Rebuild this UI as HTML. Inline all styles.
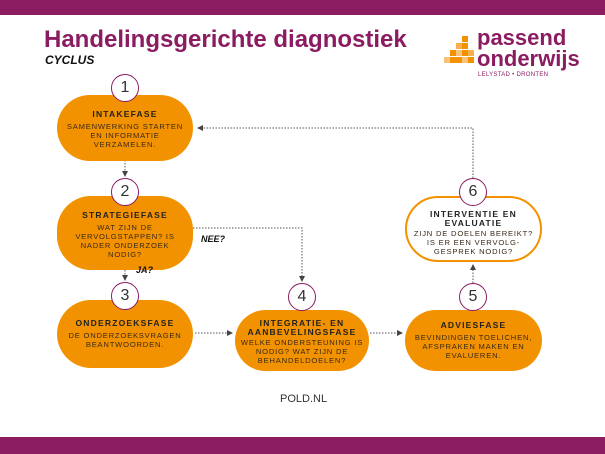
<!DOCTYPE html>
<html><head><meta charset="utf-8"><style>
*{margin:0;padding:0;box-sizing:border-box}
body{width:605px;height:454px;position:relative;background:#fff;font-family:"Liberation Sans",sans-serif;overflow:hidden}
.bar{position:absolute;left:0;width:605px;background:#8b1c62}
.t{position:absolute;white-space:nowrap}
.pill{position:absolute;background:#f39200;border-radius:34px;text-align:center;color:#3a2a1a;letter-spacing:0.8px}
.pill b{display:block;font-size:8.5px;letter-spacing:1.2px;color:#222;margin-bottom:3px}
.pill span{display:block;font-size:7.6px;line-height:9px}
.c{position:absolute;width:28px;height:28px;border-radius:50%;background:#fff;border:1.5px solid #8b1c62;text-align:center;line-height:25px;font-size:16px;color:#333}
.sq{position:absolute;width:6px;height:6px}
</style></head><body>
<div class="bar" style="top:0;height:15px"></div>
<div class="bar" style="top:437px;height:17px"></div>
<div class="t" style="left:44px;top:26px;font-size:24px;font-weight:bold;color:#8b1c62">Handelingsgerichte diagnostiek</div>
<div class="t" style="left:45px;top:53px;font-size:12px;font-weight:bold;font-style:italic;color:#111">CYCLUS</div>
<!-- logo -->
<div class="sq" style="left:462px;top:36px;background:#f39200"></div>
<div class="sq" style="left:456px;top:43px;background:#f7b04d"></div><div class="sq" style="left:462px;top:43px;background:#f39200"></div>
<div class="sq" style="left:450px;top:50px;background:#f39200"></div><div class="sq" style="left:456px;top:50px;background:#f9c27a"></div><div class="sq" style="left:462px;top:50px;background:#f39200"></div><div class="sq" style="left:468px;top:50px;background:#f7b04d"></div>
<div class="sq" style="left:444px;top:57px;background:#f9c27a"></div><div class="sq" style="left:450px;top:57px;background:#f39200"></div><div class="sq" style="left:456px;top:57px;background:#f39200"></div><div class="sq" style="left:462px;top:57px;background:#f9c27a"></div><div class="sq" style="left:468px;top:57px;background:#f39200"></div>
<div class="t" style="left:477px;top:27px;font-size:22px;font-weight:bold;color:#8b1c62;line-height:21px">passend<br>onderwijs</div>
<div class="t" style="left:478px;top:72px;font-size:6px;color:#8b1c62;letter-spacing:0.3px">LELYSTAD • DRONTEN</div>

<svg style="position:absolute;left:0;top:0" width="605" height="454">
<defs><marker id="a" markerWidth="6" markerHeight="6" refX="5" refY="3" orient="auto"><path d="M0,0L6,3L0,6z" fill="#444"/></marker></defs>
<g stroke="#555" stroke-width="1" stroke-dasharray="1.5,1.5" fill="none">
<path d="M473 178V128H198" marker-end="url(#a)"/>
<path d="M125 160V176" marker-end="url(#a)"/>
<path d="M193 228H302V281" marker-end="url(#a)"/>
<path d="M125 270V280" marker-end="url(#a)"/>
<path d="M195 333H232" marker-end="url(#a)"/>
<path d="M370 333H402" marker-end="url(#a)"/>
<path d="M473 283V265" marker-end="url(#a)"/>
</g></svg>

<div class="pill" style="left:57px;top:95px;width:136px;height:66px;padding-top:14px"><b>INTAKEFASE</b><span>SAMENWERKING STARTEN<br>EN INFORMATIE<br>VERZAMELEN.</span></div>
<div class="pill" style="left:57px;top:196px;width:136px;height:74px;padding-top:14px"><b>STRATEGIEFASE</b><span>WAT ZIJN DE<br>VERVOLGSTAPPEN? IS<br>NADER ONDERZOEK<br>NODIG?</span></div>
<div class="pill" style="left:57px;top:300px;width:136px;height:68px;padding-top:18px"><b>ONDERZOEKSFASE</b><span>DE ONDERZOEKSVRAGEN<br>BEANTWOORDEN.</span></div>
<div class="pill" style="left:235px;top:310px;width:134px;height:61px;padding-top:9px"><b style="margin-bottom:1px;line-height:9px">INTEGRATIE- EN<br>AANBEVELINGSFASE</b><span>WELKE ONDERSTEUNING IS<br>NODIG? WAT ZIJN DE<br>BEHANDELDOELEN?</span></div>
<div class="pill" style="left:405px;top:310px;width:137px;height:61px;padding-top:10px"><b>ADVIESFASE</b><span>BEVINDINGEN TOELICHEN,<br>AFSPRAKEN MAKEN EN<br>EVALUEREN.</span></div>
<div class="pill" style="left:405px;top:196px;width:137px;height:66px;padding-top:12px;background:#fff;border:2px solid #f39200"><b style="margin-bottom:1px;line-height:9px">INTERVENTIE EN<br>EVALUATIE</b><span>ZIJN DE DOELEN BEREIKT?<br>IS ER EEN VERVOLG-<br>GESPREK NODIG?</span></div>

<div class="c" style="left:111px;top:74px">1</div>
<div class="c" style="left:111px;top:178px">2</div>
<div class="c" style="left:111px;top:282px">3</div>
<div class="c" style="left:288px;top:283px">4</div>
<div class="c" style="left:459px;top:283px">5</div>
<div class="c" style="left:459px;top:178px">6</div>

<div class="t" style="left:201px;top:234px;font-size:9px;font-weight:bold;font-style:italic;color:#111">NEE?</div>
<div class="t" style="left:136px;top:265px;font-size:9px;font-weight:bold;font-style:italic;color:#111">JA?</div>
<div class="t" style="left:280px;top:393px;font-size:11px;color:#333">POLD.NL</div>
</body></html>
